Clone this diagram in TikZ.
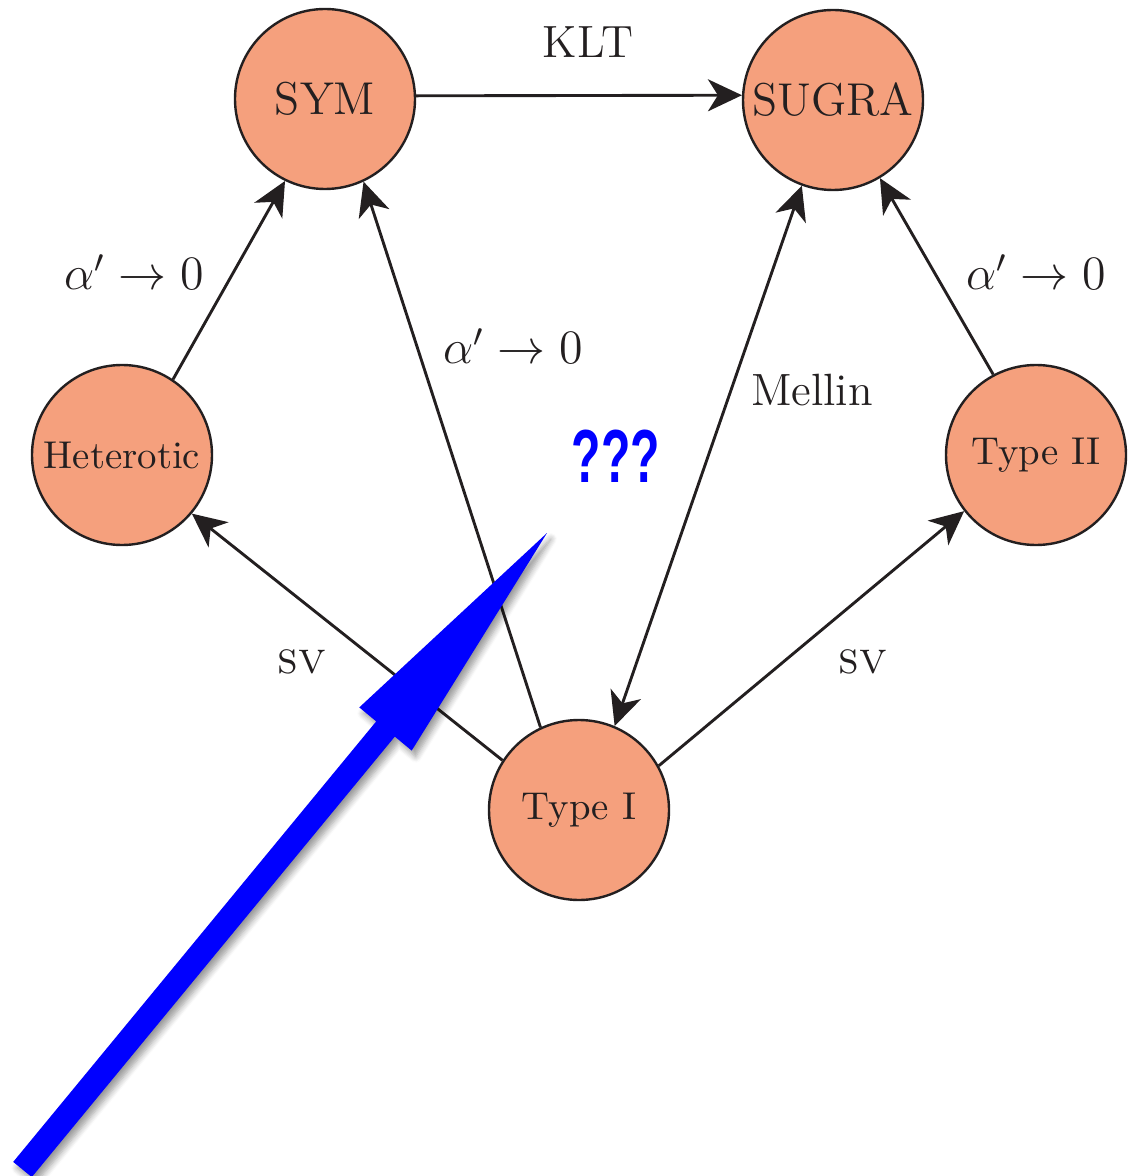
\documentclass[tikz,border=0pt]{standalone}
\usepackage{fontspec}
\newfontfamily\qfont{Liberation Sans}
\usetikzlibrary{arrows.meta,shadows.blur}
\definecolor{salmon}{RGB}{245,160,125}
\definecolor{ink}{RGB}{35,31,32}
\begin{document}
\begin{tikzpicture}[x=0.25pt,y=-0.25pt,
  st/.style={circle,draw=ink,fill=salmon,line width=0.6pt,minimum size=45pt,inner sep=0pt,text=ink},
  big/.style={font=\fontsize{11.5}{13}\selectfont},
  small/.style={font=\fontsize{9.7}{11}\selectfont},
  conn/.style={draw=ink,line width=0.72pt,-{Stealth[length=8.5pt,width=8pt,inset=2.5pt]}},
  both/.style={draw=ink,line width=0.72pt,{Stealth[length=8.5pt,width=8pt,inset=2.5pt]}-{Stealth[length=8.5pt,width=8pt,inset=2.5pt]}},
  lab/.style={text=ink,font=\fontsize{11.3}{13}\selectfont,inner sep=0pt},
  alab/.style={text=ink,font=\fontsize{12}{14}\selectfont,inner sep=0pt}]
\useasboundingbox (0,0) rectangle (1135,1176);

\node[st,big]   (sym)   at (325,99)   {SYM};
\node[st,big]   (sugra) at (833,100)  {SUGRA};
\node[st,small] (het)   at (122,455)  {Heterotic};
\node[st,small] (t2)    at (1036,455) {Type II};
\node[st,small] (t1)    at (579,810)  {Type I};

\draw[conn] (sym.2) -- (sugra.177.5);
\draw[conn] (het.56) -- (sym.-116);
\draw[conn] (t1.115) -- (sym.-65);
\draw[conn] (t2.118) -- (sugra.-59);
\draw[both] (t1.67) -- (sugra.-110);
\draw[conn] (t1.147) -- (het.-40);
\draw[conn] (t1.29) -- (t2.-142.5);

\node[lab]  (klt)  at (588,42)   {KLT};
\node[alab] (a1)   at (134,272)  {$\alpha'\to0$};
\node[alab] (a2)   at (513,346)  {$\alpha'\to0$};
\node[alab] (a3)   at (1036,272) {$\alpha'\to0$};
\node[lab]  (mel)  at (812,390)  {Mellin};
\node[lab]  (sv1)  at (302,662)  {\textsc{sv}};
\node[lab]  (sv2)  at (863,662)  {\textsc{sv}};
\node[text=blue,inner sep=0pt,font=\qfont\bfseries\fontsize{18.8}{20}\selectfont] (qqq) at (616,456) {\scalebox{0.64}[1]{???}};

\fill[blue, blur shadow={shadow xshift=1pt, shadow yshift=-1.5pt, shadow opacity=40, shadow blur steps=6, shadow blur radius=1.5pt}]
  (547,533) -- (411.7,750.6) -- (394.8,736.6) -- (31.8,1177.1) -- (13.2,1161.9) -- (376.2,721.4) -- (359.3,707.4) -- cycle;
\end{tikzpicture}
\end{document}
